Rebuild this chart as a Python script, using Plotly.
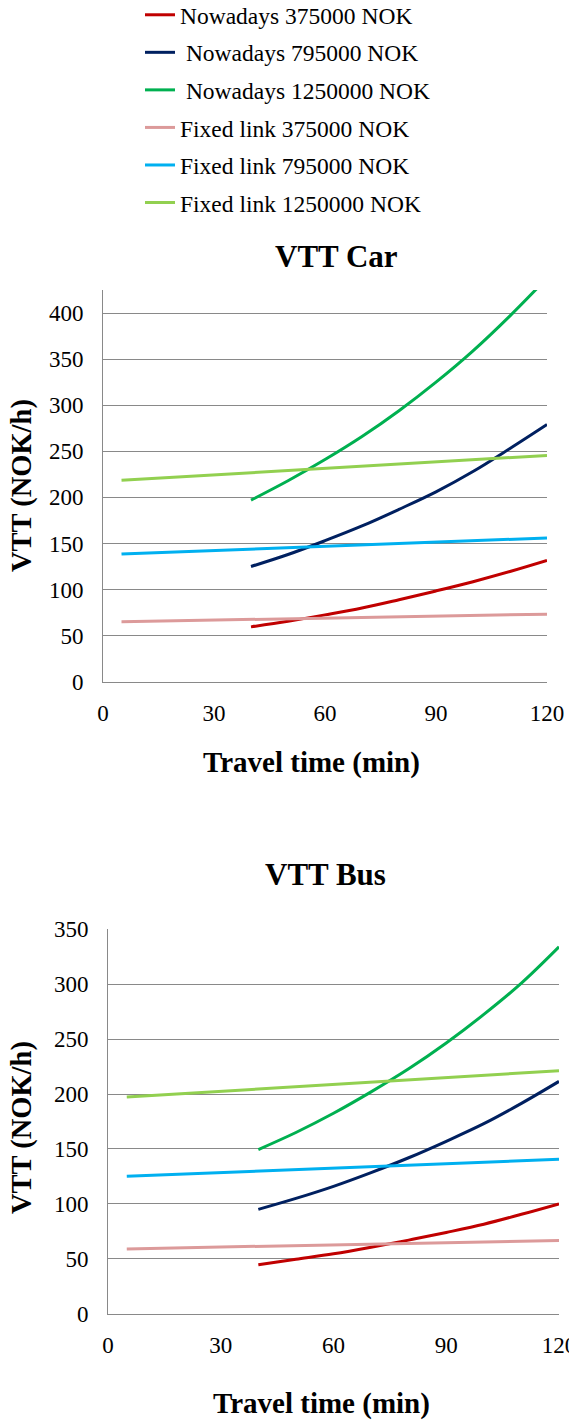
import plotly.graph_objects as go

# Travel time samples (minutes)
minutes_now = [40, 50, 60, 70, 80, 90, 100, 110, 120]
minutes_fixed = [5, 120]

# VTT Car (NOK/h)
car_now_375 = [59.5, 65.5, 72.5, 80, 89, 98.5, 108.5, 119.5, 131.5]
car_now_795 = [125, 138, 153, 169, 187, 206, 228, 253, 279]
car_now_1250 = [197, 218, 241, 266, 294, 325, 359, 397, 438]
car_fixed_375 = [65, 73.3]
car_fixed_795 = [138.5, 156]
car_fixed_1250 = [218.5, 245.5]

# VTT Bus (NOK/h)
bus_now_375 = [44.5, 49.5, 54.5, 60.5, 67, 74, 81.5, 90.5, 100]
bus_now_795 = [95, 105, 116, 128.5, 142, 157, 173, 191.5, 211.5]
bus_now_1250 = [149.5, 165, 182.5, 202, 223, 246.5, 272.5, 301, 334]
bus_fixed_375 = [59, 66.7]
bus_fixed_795 = [125.2, 140.6]
bus_fixed_1250 = [197.3, 221.3]

series_names = [
    "Nowadays 375000 NOK",
    "\u00a0Nowadays 795000 NOK",
    "\u00a0Nowadays 1250000 NOK",
    "Fixed link 375000 NOK",
    "Fixed link 795000 NOK",
    "Fixed link 1250000 NOK",
]
series_colors = ["#C00000", "#002060", "#00B050", "#DC9A9A", "#00B0F0", "#92D050"]

SERIF = "Times New Roman"
GRID = "#898989"

fig = go.Figure()

car = [
    (minutes_now, car_now_375), (minutes_now, car_now_795), (minutes_now, car_now_1250),
    (minutes_fixed, car_fixed_375), (minutes_fixed, car_fixed_795), (minutes_fixed, car_fixed_1250),
]
bus = [
    (minutes_now, bus_now_375), (minutes_now, bus_now_795), (minutes_now, bus_now_1250),
    (minutes_fixed, bus_fixed_375), (minutes_fixed, bus_fixed_795), (minutes_fixed, bus_fixed_1250),
]

for i, ((x, y), name, color) in enumerate(zip(car, series_names, series_colors)):
    fig.add_trace(go.Scatter(
        x=x, y=y, name=name, mode="lines", line=dict(color=color, width=3, shape="spline"),
        xaxis="x", yaxis="y", legendgroup=f"g{i}", showlegend=True,
    ))
for i, ((x, y), name, color) in enumerate(zip(bus, series_names, series_colors)):
    fig.add_trace(go.Scatter(
        x=x, y=y, name=name, mode="lines", line=dict(color=color, width=3, shape="spline"),
        xaxis="x2", yaxis="y2", legendgroup=f"g{i}", showlegend=False,
    ))

W, H = 569, 1422

def px_x(p):
    return p / W

def px_y(p):
    return 1 - p / H

axis_common = dict(
    showline=True, linecolor=GRID, linewidth=1, zeroline=False,
    tickfont=dict(family=SERIF, size=23, color="black"),
    ticks="", automargin=False,
)
x_common = dict(range=[0, 120], dtick=30, showgrid=False, ticklabelstandoff=11,
                ticklabeloverflow="allow", **axis_common)
y_common = dict(dtick=50, showgrid=True, gridcolor=GRID, gridwidth=1,
                ticklabelstandoff=14, **axis_common)

fig.update_layout(
    width=W, height=H,
    margin=dict(l=0, r=0, t=0, b=0, autoexpand=False),
    paper_bgcolor="white", plot_bgcolor="white",
    showlegend=True,
    legend=dict(
        x=px_x(140), y=px_y(-7), xanchor="left", yanchor="top",
        font=dict(family=SERIF, size=23.5, color="black"),
        traceorder="grouped", tracegroupgap=4, bgcolor="rgba(0,0,0,0)",
    ),
    xaxis=dict(domain=[px_x(103), px_x(547)], anchor="y", **x_common),
    yaxis=dict(domain=[px_y(681.7), px_y(290)], range=[0, 425], anchor="x", **y_common),
    xaxis2=dict(domain=[px_x(108), px_x(559)], anchor="y2", **x_common),
    yaxis2=dict(domain=[px_y(1313.7), px_y(929.3)], range=[0, 350], anchor="x2", **y_common),
)

def label(text, x, y, size, angle=0):
    fig.add_annotation(
        text=f"<b>{text}</b>", x=px_x(x), y=px_y(y), xref="paper", yref="paper",
        showarrow=False, textangle=angle, xanchor="center", yanchor="middle",
        font=dict(family=SERIF, size=size, color="black"),
    )

label("VTT Car", 337, 257, 31)
label("Travel time (min)", 311, 762, 29)
label("VTT (NOK/h)", 22, 486, 28.5, angle=-90)

label("VTT Bus", 325, 874, 31)
label("Travel time (min)", 321, 1403, 29)
label("VTT (NOK/h)", 22, 1128, 28.5, angle=-90)

fig.write_html("out.html")
